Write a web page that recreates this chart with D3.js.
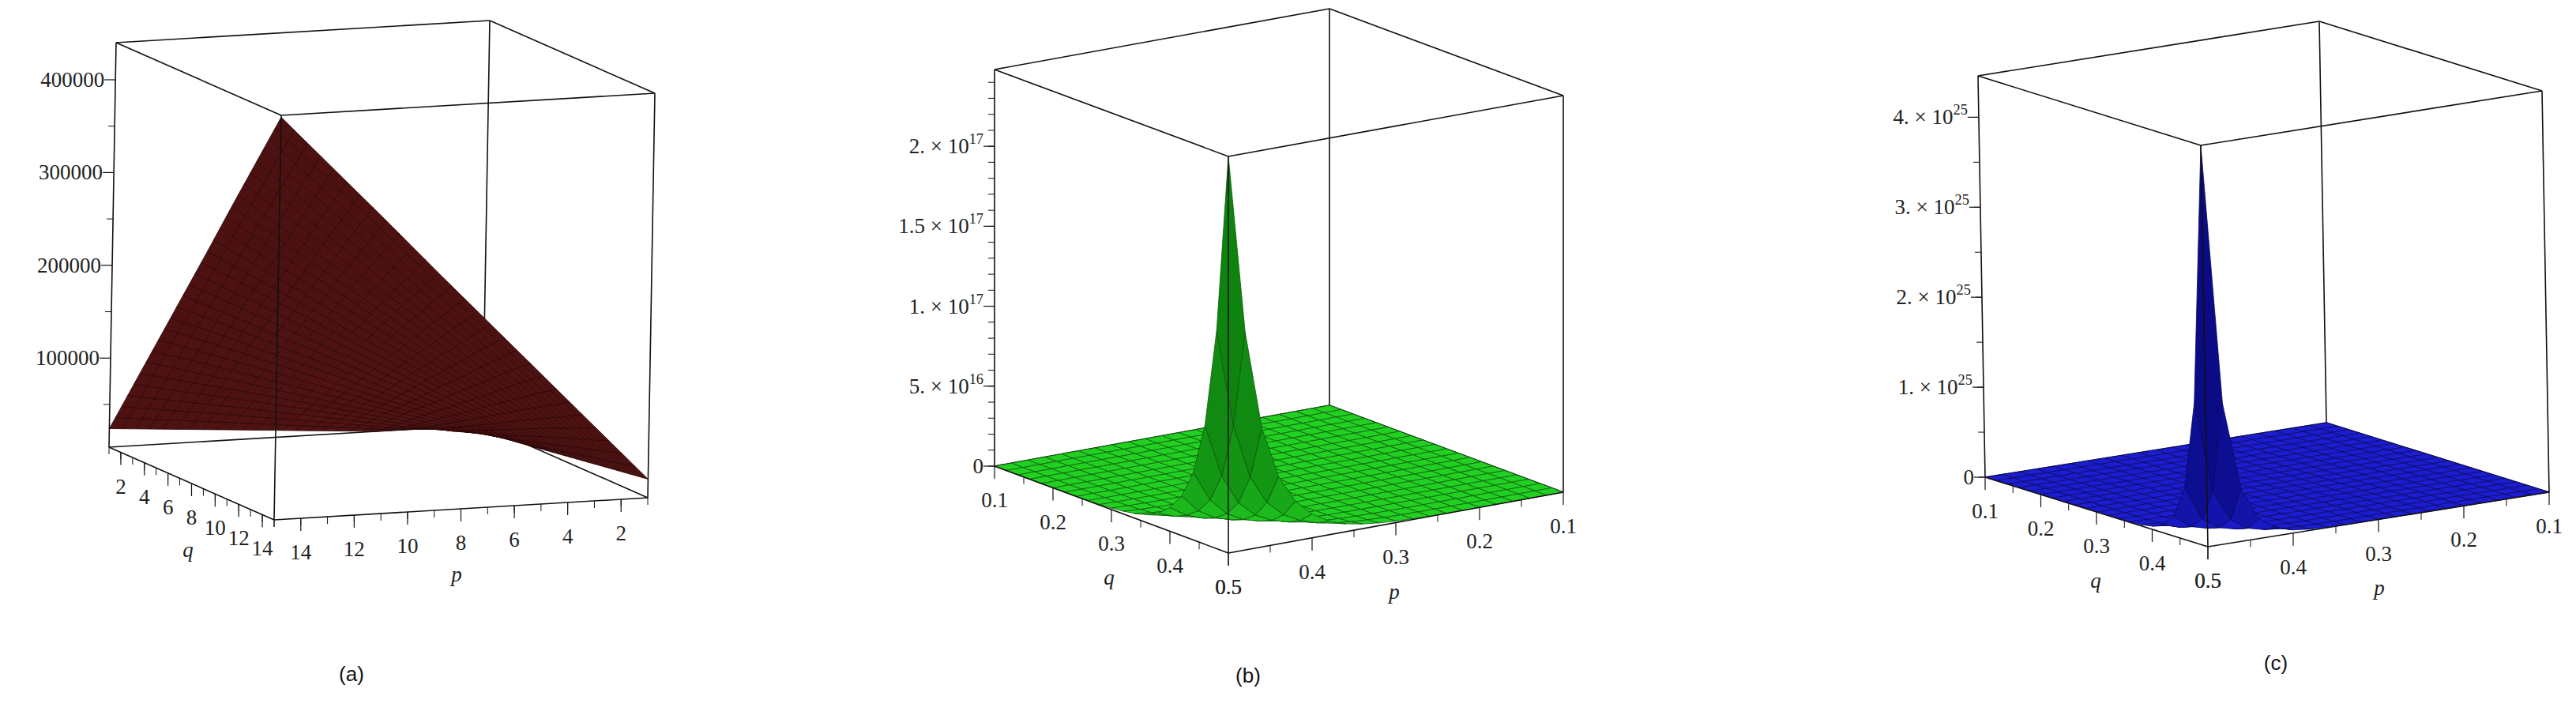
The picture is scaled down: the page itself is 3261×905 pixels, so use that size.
<!DOCTYPE html>
<html>
<head>
<meta charset="utf-8">
<script src="https://cdn.jsdelivr.net/npm/d3@7"></script>
<style>
  body { margin: 0; background: #fff; }
  svg text { font-family: "Liberation Serif", "DejaVu Serif", serif; fill: #222; }
  svg text.cap { font-family: "Liberation Sans", Arial, sans-serif; fill: #111; }
</style>
</head>
<body>
<svg id="chart" width="3261" height="905"></svg>
<script>
// ---- data ----
// (a) surface sampled at p,q = 1,3,...,15 ; values in thousands, rows = q
var aP = [1, 3, 5, 7, 9, 11, 13, 15];
var aQ = [1, 3, 5, 7, 9, 11, 13, 15];
var aZ = [
  [4, 4, 4, 8, 12, 16, 20, 24],
  [4, 12, 24, 36, 48, 60, 71, 83],
  [4, 24, 44, 63, 83, 103, 123, 142],
  [8, 36, 63, 91, 119, 146, 174, 201],
  [12, 48, 83, 119, 154, 190, 225, 260],
  [16, 60, 103, 146, 190, 233, 276, 320],
  [20, 71, 123, 174, 225, 276, 328, 379],
  [24, 83, 142, 201, 260, 320, 379, 438]
];
var aTicks = [2, 4, 6, 8, 10, 12, 14];
var aZTicks = [100000, 200000, 300000, 400000];

// (b), (c) peaked surfaces on p,q in [0.1,0.5]; edge profile (share of peak)
var pqGrid = [0.1, 0.12, 0.14, 0.16, 0.18, 0.2, 0.22, 0.24, 0.26, 0.28, 0.3,
              0.32, 0.34, 0.36, 0.38, 0.4, 0.42, 0.44, 0.46, 0.48, 0.5];
var bProfile = [0, 0, 0, 0, 0, 0, 0.0002, 0.0005, 0.001, 0.002, 0.004,
                0.007, 0.012, 0.02, 0.035, 0.06, 0.1, 0.17, 0.3, 0.55, 1];
var bPeak = 2.48e17;
var cProfile = [0, 0, 0, 0, 0, 0, 0, 0, 0, 0, 0,
                0, 0.0004, 0.001, 0.003, 0.008, 0.02, 0.05, 0.13, 0.35, 1];
var cPeak = 4.46e25;
var pqTicks = [0.1, 0.2, 0.3, 0.4, 0.5];
var bZTicks = [0, 5e16, 1e17, 1.5e17, 2e17];
var bZLabels = [['0'], ['5. \u00d7 10', '16'], ['1. \u00d7 10', '17'], ['1.5 \u00d7 10', '17'], ['2. \u00d7 10', '17']];
var cZTicks = [0, 1e25, 2e25, 3e25, 4e25];
var cZLabels = [['0'], ['1. \u00d7 10', '25'], ['2. \u00d7 10', '25'], ['3. \u00d7 10', '25'], ['4. \u00d7 10', '25']];

var svg = d3.select('#chart');

function outer(profile, peak) {
  return profile.map(function(a) { return profile.map(function(b) { return peak * a * b; }); });
}

function drawPanel(cfg) {
  var g = svg.append('g');
  var sP = d3.scaleLinear().domain(cfg.pDom).range([0, 1]);   // 0 at front corner, 1 at right
  var sQ = d3.scaleLinear().domain(cfg.qDom).range([0, 1]);   // 0 at left corner, 1 at front
  var sZ = d3.scaleLinear().domain(cfg.zDom).range([0, 1]);
  var L = cfg.L, F = cfg.F, R = cfg.R, Z = cfg.zv;

  function proj(t, s, u) {
    return [L[0] + s * (F[0] - L[0]) + t * (R[0] - F[0]) + u * Z[0],
            L[1] + s * (F[1] - L[1]) + t * (R[1] - F[1]) + u * Z[1]];
  }
  var line = function(a, b, w) {
    g.append('line').attr('x1', a[0]).attr('y1', a[1]).attr('x2', b[0]).attr('y2', b[1])
      .attr('stroke', '#111').attr('stroke-width', w || 1.6);
  };

  // back edges (under the surface)
  var B0 = proj(1, 0, 0);
  line(proj(0, 0, 0), B0); line(B0, proj(1, 1, 0)); line(B0, proj(1, 0, 1));

  // surface quads, farthest from the front corner first
  var quads = [];
  var P = cfg.pVals, Q = cfg.qVals, V = cfg.values, n = cfg.sub || 1;
  for (var i = 0; i < Q.length - 1; i++) {
    for (var j = 0; j < P.length - 1; j++) {
      for (var a = 0; a < n; a++) {
        for (var b = 0; b < n; b++) {
          var corners = [[a, b], [a + 1, b], [a + 1, b + 1], [a, b + 1]].map(function(c) {
            var fi = c[0] / n, fj = c[1] / n;
            var q = Q[i] + fi * (Q[i + 1] - Q[i]);
            var p = P[j] + fj * (P[j + 1] - P[j]);
            var z = (1 - fi) * (1 - fj) * V[i][j] + fi * (1 - fj) * V[i + 1][j] +
                    fi * fj * V[i + 1][j + 1] + (1 - fi) * fj * V[i][j + 1];
            return [sP(p), sQ(q), sZ(Math.min(z, cfg.zDom[1]))];
          });
          var ct = d3.mean(corners, function(c) { return c[0]; });
          var cs = d3.mean(corners, function(c) { return c[1]; });
          var d1 = [corners[2][0] - corners[0][0], corners[2][1] - corners[0][1], corners[2][2] - corners[0][2]];
          var d2 = [corners[3][0] - corners[1][0], corners[3][1] - corners[1][1], corners[3][2] - corners[1][2]];
          var nx = d1[1] * d2[2] - d1[2] * d2[1], ny = d1[2] * d2[0] - d1[0] * d2[2], nz = d1[0] * d2[1] - d1[1] * d2[0];
          var len = Math.sqrt(nx * nx + ny * ny + nz * nz) || 1;
          var steep = 1 - Math.abs(nz) / len;
          quads.push({ pts: corners.map(function(c) { return proj(c[0], c[1], c[2]); }),
                       depth: ct + (1 - cs), steep: steep });
        }
      }
    }
  }
  quads.sort(function(x, y) { return y.depth - x.depth; });
  var shade = d3.interpolateRgb(cfg.fill, cfg.dark);
  g.append('g').selectAll('path').data(quads).join('path')
    .attr('d', function(d) { return 'M' + d.pts.join('L') + 'Z'; })
    .attr('fill', function(d) { return shade(d.steep * cfg.shadeAmt); })
    .attr('stroke', cfg.stroke)
    .attr('stroke-width', cfg.strokeW)
    .attr('stroke-linejoin', 'round');

  // front edges over the surface
  var L0 = proj(0, 0, 0), F0 = proj(0, 1, 0), R0 = proj(1, 1, 0);
  var L1 = proj(0, 0, 1), F1 = proj(0, 1, 1), R1 = proj(1, 1, 1), B1 = proj(1, 0, 1);
  line(L0, F0); line(F0, R0); line(L0, L1); line(F0, F1); line(R0, R1);
  line(L1, F1); line(F1, R1); line(L1, B1); line(B1, R1);

  // z axis ticks + labels on left edge
  cfg.zMinor.forEach(function(z) {
    var a = proj(0, 0, sZ(z)); line(a, [a[0] - 8, a[1]], 1);
  });
  cfg.zTicks.forEach(function(z, k) {
    var a = proj(0, 0, sZ(z)); line(a, [a[0] - 14, a[1]], 1.2);
    var t = g.append('text').attr('x', a[0] - 14).attr('y', a[1] + 9)
      .attr('text-anchor', 'end').attr('font-size', cfg.fs);
    var lab = cfg.zLabels[k];
    t.append('tspan').text(lab[0]);
    if (lab[1]) t.append('tspan').attr('dy', -12).attr('font-size', cfg.fs * 0.68).text(lab[1]);
  });

  // q axis (left corner -> front corner) and p axis (front -> right)
  cfg.minor.forEach(function(v) {
    var a = proj(0, sQ(v), 0); line(a, [a[0], a[1] + 9], 1);
    var b = proj(sP(v), 1, 0); line(b, [b[0], b[1] + 9], 1);
  });
  cfg.major.forEach(function(v) {
    var a = proj(0, sQ(v), 0); line(a, [a[0], a[1] + 16], 1.2);
    g.append('text').attr('x', a[0]).attr('y', a[1] + 52).attr('text-anchor', 'middle')
      .attr('font-size', cfg.fs).text(cfg.fmt(v));
    var b = proj(sP(v), 1, 0); line(b, [b[0], b[1] + 16], 1.2);
    g.append('text').attr('x', b[0]).attr('y', b[1] + 52).attr('text-anchor', 'middle')
      .attr('font-size', cfg.fs).text(cfg.fmt(v));
  });
  g.append('text').attr('x', cfg.qLab[0]).attr('y', cfg.qLab[1]).attr('font-style', 'italic')
    .attr('text-anchor', 'middle').attr('font-size', cfg.fs).text('q');
  g.append('text').attr('x', cfg.pLab[0]).attr('y', cfg.pLab[1]).attr('font-style', 'italic')
    .attr('text-anchor', 'middle').attr('font-size', cfg.fs).text('p');
  g.append('text').attr('class', 'cap').attr('x', cfg.cap[0]).attr('y', cfg.cap[1])
    .attr('text-anchor', 'middle').attr('font-size', 26).text(cfg.capText);
}

drawPanel({
  L: [138, 566], F: [347, 658], R: [820, 630], zv: [9, -512],
  pDom: [15, 1], qDom: [1, 15], zDom: [4000, 440000],
  pVals: aP, qVals: aQ, values: aZ.map(function(r) { return r.map(function(v) { return v * 1000; }); }),
  sub: 4, fill: '#521313', dark: '#3a0a0a', shadeAmt: 0.6, stroke: '#2a0505', strokeW: 0.8,
  zTicks: aZTicks, zLabels: aZTicks.map(function(v) { return [String(v)]; }),
  zMinor: d3.range(50000, 440000, 100000),
  major: aTicks, minor: d3.range(1, 16), fmt: String, fs: 27,
  qLab: [238, 705], pLab: [578, 736], cap: [445, 862], capText: '(a)'
});

drawPanel({
  L: [1259, 590], F: [1555, 700], R: [1979, 623], zv: [0, -502],
  pDom: [0.5, 0.1], qDom: [0.1, 0.5], zDom: [0, bPeak],
  pVals: pqGrid, qVals: pqGrid, values: outer(bProfile, bPeak),
  fill: '#22d022', dark: '#0c7a0c', shadeAmt: 1, stroke: '#0d5a0d', strokeW: 0.8,
  zTicks: bZTicks, zLabels: bZLabels, zMinor: d3.range(0, 2.45e17, 1e16),
  major: pqTicks, minor: [0.15, 0.25, 0.35, 0.45], fmt: d3.format('.1f'), fs: 27,
  qLab: [1404, 740], pLab: [1765, 758], cap: [1580, 864], capText: '(b)'
});

drawPanel({
  L: [2513, 604], F: [2795, 692], R: [3227, 623], zv: [-9, -508],
  pDom: [0.5, 0.1], qDom: [0.1, 0.5], zDom: [0, cPeak],
  pVals: pqGrid, qVals: pqGrid, values: outer(cProfile, cPeak),
  fill: '#1c1cd0', dark: '#0a0a80', shadeAmt: 1, stroke: '#0a0a60', strokeW: 0.8,
  zTicks: cZTicks, zLabels: cZLabels, zMinor: d3.range(0, 4.45e25, 5e24),
  major: pqTicks, minor: [0.15, 0.25, 0.35, 0.45], fmt: d3.format('.1f'), fs: 27,
  qLab: [2653, 744], pLab: [3012, 753], cap: [2881, 848], capText: '(c)'
});
</script>
</body>
</html>
